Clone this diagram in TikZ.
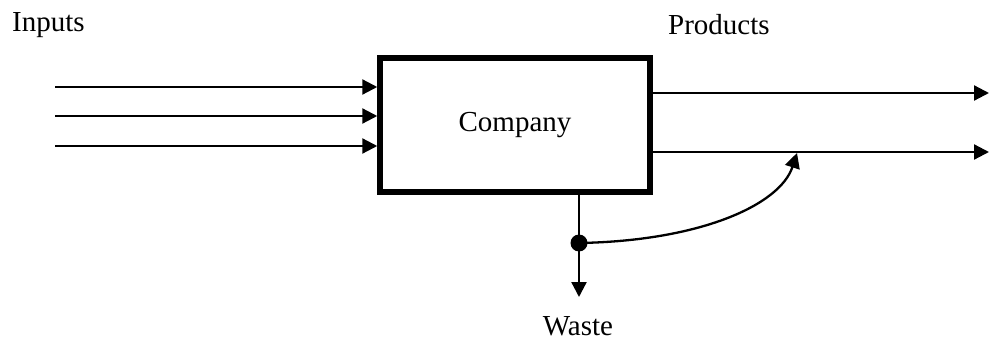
\documentclass[tikz,border=0pt]{standalone}
\usepackage{fontspec}
\setmainfont{Liberation Serif}
\usetikzlibrary{arrows.meta}
\begin{document}
\begin{tikzpicture}[x=1pt,y=-1pt,
  flow/.style={line width=2.3pt,-{Triangle[length=15pt,width=15pt]}},
  lbl/.style={font=\fontsize{29}{34}\selectfont,inner sep=0pt},
  firm/.style={draw,line width=5.5pt,minimum width=270pt,minimum height=134pt,inner sep=0pt}]
\useasboundingbox (0,0) rectangle (989,345);
% company block
\node[firm,lbl] (co) at (515,125) {Company};
% labels
\node[lbl,anchor=west] (inp) at (12,25) {Inputs};
\node[lbl,anchor=west] (prd) at (668,25) {Products};
\node[lbl] (wst) at (578,326) {Waste};
% input flows
\coordinate (i1) at (55,87);
\coordinate (i2) at (55,116);
\coordinate (i3) at (55,146);
\draw[flow] (i1) -- (i1 -| co.west);
\draw[flow] (i2) -- (i2 -| co.west);
\draw[flow] (i3) -- (i3 -| co.west);
% product flows
\coordinate (o1) at (989,93);
\coordinate (o2) at (989,152);
\draw[flow] (o1 -| co.east) -- (o1);
\draw[flow] (o2 -| co.east) -- (o2);
% waste stream with recycling branch
\coordinate (wtop) at (579,192);
\coordinate (wend) at (579,297);
\coordinate (rec) at (797,153);
\node[circle,fill,inner sep=0pt,minimum size=17pt] (dot) at (579,243) {};
\draw[flow] (wtop) -- (wend);
\draw[flow] (dot.center) .. controls (700,241) and (780,205) .. (rec);
\end{tikzpicture}
\end{document}
